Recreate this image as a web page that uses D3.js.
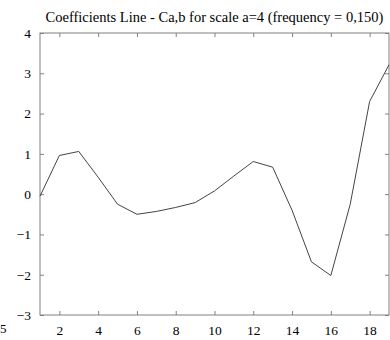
<!DOCTYPE html>
<meta charset="utf-8">
<html>
<head>
<script src="https://d3js.org/d3.v7.min.js"></script>
<style>
  body { margin: 0; background: #fff; }
  svg text { font-family: "Liberation Serif", "DejaVu Serif", serif !important; fill: #000; }
</style>
</head>
<body>
<div id="chart"></div>
<script>
// data
var xVals = [1, 2, 3, 4, 5, 6, 7, 8, 9, 10, 11, 12, 13, 14, 15, 16, 17, 18, 19];
var coefs = [-0.05, 0.96, 1.06, 0.42, -0.25, -0.5, -0.43, -0.33, -0.21, 0.08, 0.45, 0.81, 0.67, -0.4, -1.68, -2.02, -0.25, 2.3, 3.21];
var xTicks = [2, 4, 6, 8, 10, 12, 14, 16, 18];
var yTicks = [-3, -2, -1, 0, 1, 2, 3, 4];
var title = "Coefficients Line - Ca,b for scale a=4 (frequency = 0,150)";

var W = 390, H = 340;
var margin = {top: 33, right: 1, bottom: 25, left: 40};
var width = W - margin.left - margin.right,
    height = H - margin.top - margin.bottom;

var svg = d3.select("#chart").append("svg")
    .attr("width", W).attr("height", H)
    .attr("font-family", "Liberation Serif");

var g = svg.append("g")
    .attr("transform", "translate(" + margin.left + "," + margin.top + ")");

var x = d3.scaleLinear().domain([1, 19]).range([0, width]);
var y = d3.scaleLinear().domain([-3, 4]).range([height, 0]);

var axisColor = "#808080";

// frame
g.append("rect")
  .attr("x", 0).attr("y", 0)
  .attr("width", width).attr("height", height)
  .attr("fill", "none").attr("stroke", axisColor).attr("stroke-width", 1);

// ticks (inward on all sides)
function styleAxis(sel) {
  sel.attr("font-family", "Liberation Serif").attr("font-size", 13.5);
  sel.select(".domain").remove();
  sel.selectAll(".tick line").attr("stroke", axisColor);
}

g.append("g").attr("transform", "translate(0," + height + ")")
  .call(d3.axisBottom(x).tickValues(xTicks).tickSizeInner(-4).tickPadding(10).tickFormat(d3.format("d")))
  .call(styleAxis);
g.append("g")
  .call(d3.axisTop(x).tickValues(xTicks).tickSizeInner(-4).tickFormat(""))
  .call(styleAxis);
g.append("g")
  .call(d3.axisLeft(y).tickValues(yTicks).tickSizeInner(-4).tickPadding(9).tickFormat(d3.format("d")))
  .call(styleAxis);
g.append("g").attr("transform", "translate(" + width + ",0)")
  .call(d3.axisRight(y).tickValues(yTicks).tickSizeInner(-4).tickFormat(""))
  .call(styleAxis);

// line
var line = d3.line()
  .x(function(d, i) { return x(xVals[i]); })
  .y(function(d) { return y(d); });

g.append("path")
  .datum(coefs)
  .attr("d", line)
  .attr("fill", "none")
  .attr("stroke", "#444")
  .attr("stroke-width", 1);

// title
svg.append("text")
  .attr("x", margin.left + width / 2)
  .attr("y", 22)
  .attr("text-anchor", "middle")
  .attr("font-size", 14.5)
  .text(title);

// stray label at bottom left
svg.append("text")
  .attr("x", 0).attr("y", 333)
  .attr("font-size", 13)
  .text("5");
</script>
</body>
</html>
